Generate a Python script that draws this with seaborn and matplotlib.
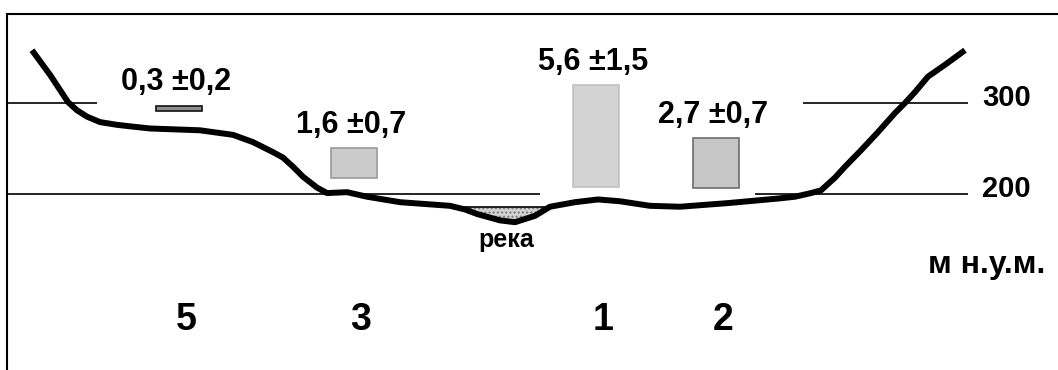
import numpy as np
import matplotlib
matplotlib.use('Agg')
import matplotlib.pyplot as plt
import seaborn as sns

# valley cross-section: distance along the section and elevation (m a.s.l.)
profile_x = [32, 50, 68, 77, 87, 100, 117, 133, 150, 200, 233, 253, 273, 283, 293,
             303, 317, 327, 347, 367, 400, 450, 465, 477, 500, 515, 535, 550, 575, 598,
             620, 650, 680, 728, 778, 795, 811, 821, 835, 845, 861, 878, 895, 905,
             915, 928, 945, 965]
profile_z = [358, 331, 301, 292, 285, 279, 276, 274, 272, 270, 265, 257, 246, 240, 230,
             219, 207, 201, 202, 197, 191, 187, 183, 178, 171, 169, 176, 186, 191, 194,
             192, 187, 186, 190, 195, 197, 201, 204, 218, 230, 248, 268, 289, 300,
             312, 329, 342, 358]
river_level = 185.5

# sampling sites with mean content +- error
sites = ['5', '3', '1', '2']
site_x = [179, 354, 596, 716]
site_base = [291, 218, 208, 207]
content = [0.3, 1.6, 5.6, 2.7]
content_err = [0.2, 0.7, 1.5, 0.7]

# reference levels and where their guide lines run
levels = [300, 200]
levels_left_end = [97, 540]
levels_right_start = [803, 755]
levels_right_end = [968, 968]

bar_face = ['#8e8e8e', '#cbcbcb', '#d2d2d2', '#c6c6c6']
bar_edge = ['#111111', '#9a9a9a', '#c0c0c0', '#6e6e6e']
m_per_unit = 20

sns.set_style('white')
plt.rcParams['font.family'] = ['Liberation Sans', 'DejaVu Sans']
plt.rcParams['font.weight'] = 'bold'
plt.rcParams['text.color'] = 'black'

W, H = 1058, 370
fig = plt.figure(figsize=(W / 100, H / 100), dpi=100)
ax = fig.add_axes([7 / W, -20 / H, 1.1, 376 / H])
ax.set_xlim(7, 7 + 1.1 * W)
ax.set_ylim(-15.4, 397.8)
ax.set_xticks([])
ax.set_yticks([])
for s in ['right', 'bottom']:
    ax.spines[s].set_visible(False)
for s in ['left', 'top']:
    ax.spines[s].set_linewidth(1.5)
    ax.spines[s].set_color('black')

# level guide lines
for lev, l_end, r_start, r_end in zip(levels, levels_left_end, levels_right_start, levels_right_end):
    ax.hlines(lev, 7, l_end, color='black', lw=1.2)
    ax.hlines(lev, r_start, r_end, color='black', lw=1.2)
    ax.annotate(str(lev), (r_end, lev), xytext=(10, -2.5), textcoords='offset points',
                ha='left', va='baseline', fontsize=21, fontweight='bold', color='black')
ax.text(928, 113, 'м н.у.м.', ha='left', va='baseline', fontsize=23, fontweight='bold',
        color='black')

# river
px = np.array(profile_x, dtype=float)
pz = np.array(profile_z, dtype=float)
ax.fill_between(px, pz, river_level, where=pz < river_level, interpolate=True,
                facecolor='#d4d4d4', edgecolor='#777777', hatch='....', lw=0)
idx = np.where(pz < river_level)[0]
i0, i1 = idx[0], idx[-1]
xl = px[i0 - 1] + (river_level - pz[i0 - 1]) * (px[i0] - px[i0 - 1]) / (pz[i0] - pz[i0 - 1])
xr = px[i1] + (river_level - pz[i1]) * (px[i1 + 1] - px[i1]) / (pz[i1 + 1] - pz[i1])
ax.plot([xl, xr], [river_level, river_level], color='black', lw=1.2)
ax.text((xl + xr) / 2 + 4, 142, 'река', ha='center', va='baseline', fontsize=18,
        fontweight='bold', color='black')

# profile
sns.lineplot(x=profile_x, y=profile_z, sort=False, color='black', lw=4.3, ax=ax,
             solid_joinstyle='round', solid_capstyle='butt')

# bars of content
heights = [c * m_per_unit for c in content]
ax.bar(site_x, heights, width=46, bottom=site_base, color=bar_face,
       edgecolor=bar_edge, linewidth=1.2)
for x, b, h, c, e in zip(site_x, site_base, heights, content, content_err):
    lab = f'{c}'.replace('.', ',') + ' ±' + f'{e}'.replace('.', ',')
    ax.annotate(lab, (x, b + h), xytext=(-2, 11), textcoords='offset points',
                ha='center', va='baseline', fontsize=22, fontweight='bold', color='black')

for x, s in zip(site_x, sites):
    ax.text(x + 7, 50, s, ha='center', va='baseline', fontsize=27, fontweight='bold',
            color='black')

fig.savefig('out.png', dpi=100)
